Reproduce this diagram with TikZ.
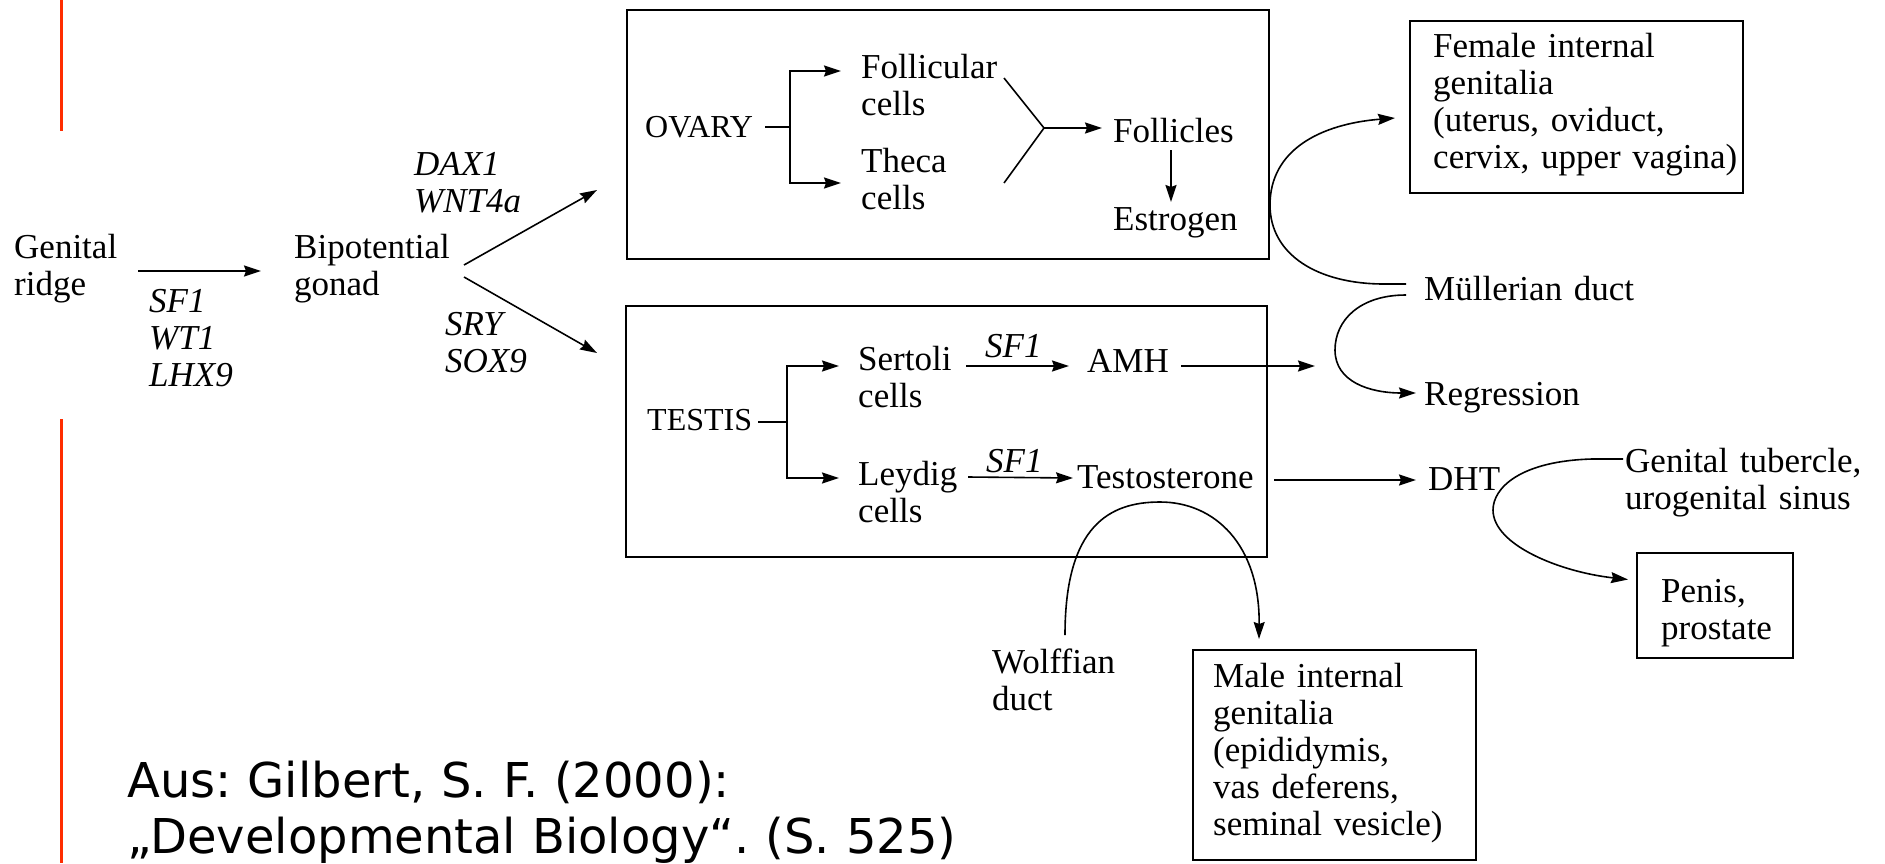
\documentclass[tikz,border=0pt]{standalone}
\usepackage{fontspec}
\setmainfont{Liberation Serif}
\newfontfamily\citefont{DejaVu Sans}
\usetikzlibrary{arrows.meta,calc}
\definecolor{redline}{RGB}{255,45,0}
\frenchspacing
\tikzset{
  txt/.style={inner sep=0pt, anchor=base west, align=left, text width=420pt,
              font=\fontsize{35}{37}\selectfont},
  itxt/.style={txt, font=\fontsize{35}{37}\selectfont\itshape},
  captxt/.style={txt, font=\fontsize{32}{37}\selectfont},
  arr/.style={-{Stealth[length=17pt,width=11pt,inset=2pt]}, line width=1.6pt},
  ln/.style={line width=1.6pt},
  box/.style={draw, line width=2pt, inner sep=0pt},
}
\begin{document}
\begin{tikzpicture}[x=1pt,y=-1pt]
\useasboundingbox (0,0) rectangle (1885,863);
% red margin lines
\draw[redline, line width=3pt] (61,0) -- (61,131);
\draw[redline, line width=3pt] (61,419) -- (61,863);

% boxes
\node[box, minimum width=642pt, minimum height=249pt] (ovbox) at (948,134.5) {};
\node[box, minimum width=641pt, minimum height=251pt] (tsbox) at (946.5,431.5) {};
\node[box, minimum width=333pt, minimum height=172pt] (fembox) at (1576.5,107) {};
\node[box, minimum width=283pt, minimum height=210pt] (malebox) at (1334.5,755) {};
\node[box, minimum width=156pt, minimum height=105pt] (penbox) at (1715,605.5) {};

% texts
\node[txt] (gr) at (14,258) {Genital\\ridge};
\node[itxt] (sfa) at (149,312) {SF1\\WT1\\LHX9};
\node[txt] (bg) at (294,258) {Bipotential\\gonad};
\node[itxt] (dax) at (414,175) {DAX1\\WNT4a};
\node[itxt] (sry) at (445,335) {SRY\\SOX9};

\node[captxt] (ov) at (645,137) {OVARY};
\node[txt] (fc) at (861,78) {Follicular\\cells};
\node[txt] (th) at (861,172) {Theca\\cells};
\node[txt] (fo) at (1113,142) {Follicles};
\node[txt] (es) at (1113,230) {Estrogen};

\node[captxt] (te) at (647,430) {TESTIS};
\node[txt] (se) at (858,370) {Sertoli\\cells};
\node[itxt] (sfb) at (985,357) {SF1};
\node[txt] (amh) at (1087,372) {AMH};
\node[txt] (le) at (858,485) {Leydig\\cells};
\node[itxt] (sfc) at (986,472) {SF1};
\node[txt] (tt) at (1077,488) {Testosterone};

\node[txt] (femtxt) at (1433,57) {Female internal\\genitalia\\(uterus, oviduct,\\cervix, upper vagina)};
\node[txt] (mu) at (1424,300) {Müllerian duct};
\node[txt] (reg) at (1424,405) {Regression};
\node[txt] (dht) at (1428,490) {DHT};
\node[txt] (gt) at (1625,472) {Genital tubercle,\\urogenital sinus};
\node[txt] (pentxt) at (1661,602) {Penis,\\prostate};
\node[txt] (wd) at (992,673) {Wolffian\\duct};
\node[txt] (maletxt) at (1213,687) {Male internal\\genitalia\\(epididymis,\\vas deferens,\\seminal vesicle)};

\node[inner sep=0pt, anchor=base west, align=left, text width=1000pt,
      font=\citefont\fontsize{48}{56}\selectfont] (cite) at (127,797)
      {Aus: Gilbert, S. F. (2000):\\„Developmental Biology“. (S. 525)};

% connectors
\draw[arr] ($(gr.base west)+(124,13)$) -- ($(bg.base west)+(-33,13)$);
\draw[arr] ($(bg.base west)+(170,7)$) -- ($(ovbox.west)+(-29,55.5)$);
\draw[arr] ($(bg.base west)+(170,19)$) -- ($(tsbox.west)+(-28,-78.5)$);

% ovary internals
\draw[ln] ($(ov.base west)+(120,-10)$) -- ++(25,0) coordinate (ovj);
\draw[arr] (ovj) |- ($(fc.base west)+(-20,-7)$);
\draw[arr] (ovj) |- ($(th.base west)+(-20,11)$);
\coordinate (vj) at ($(fo.base west)+(-69,-14)$);
\draw[ln] ($(fc.base west)+(143,0)$) -- (vj) -- ($(th.base west)+(143,11)$);
\draw[arr] (vj) -- ($(fo.base west)+(-11,-14)$);
\draw[arr] ($(fo.base west)+(58,8)$) -- ($(es.base west)+(58,-28)$);

% testis internals
\draw[ln] ($(te.base west)+(111,-8)$) -- ++(29,0) coordinate (tj);
\draw[arr] (tj) |- ($(se.base west)+(-19,-4)$);
\draw[arr] (tj) |- ($(le.base west)+(-19,-7)$);
\draw[arr] ($(se.base west)+(108,-4)$) -- ($(amh.base west)+(-18,-6)$);
\draw[arr] ($(le.base west)+(110,-8)$) -- ($(tt.base west)+(-4,-10)$);
\draw[arr] ($(amh.base west)+(94,-6)$) -- ($(mu.base west)+(-109,66)$);
\draw[arr] ($(tt.base west)+(197,-8)$) -- ($(dht.base west)+(-12,-10)$);

% Muellerian duct curves
\draw[arr] ($(mu.base west)+(-18,-16)$) -- (1384,284)
   .. controls (1318,284) and (1270,255) .. (1270,205)
   .. controls (1270,150) and (1320,124) .. ($(fembox.west)+(-14,11)$);
\draw[arr] ($(mu.base west)+(-18,-5)$) .. controls (1360,295) and (1335,320) .. (1335,350)
   .. controls (1335,382) and (1370,393) .. ($(reg.base west)+(-8,-12)$);

% DHT curve
\draw[arr] ($(gt.base west)+(-2,-13)$) -- (1592,459)
   .. controls (1520,461) and (1493,488) .. (1493,510)
   .. controls (1493,545) and (1560,572) .. ($(penbox.west)+(-8,-26)$);

% Wolffian duct curve
\draw[arr] ($(wd.base west)+(73,-38)$) .. controls (1065,525) and (1110,502) .. (1160,502)
   .. controls (1215,502) and (1260,545) .. ($(malebox.north west)+(67,-10)$);
\end{tikzpicture}
\end{document}
